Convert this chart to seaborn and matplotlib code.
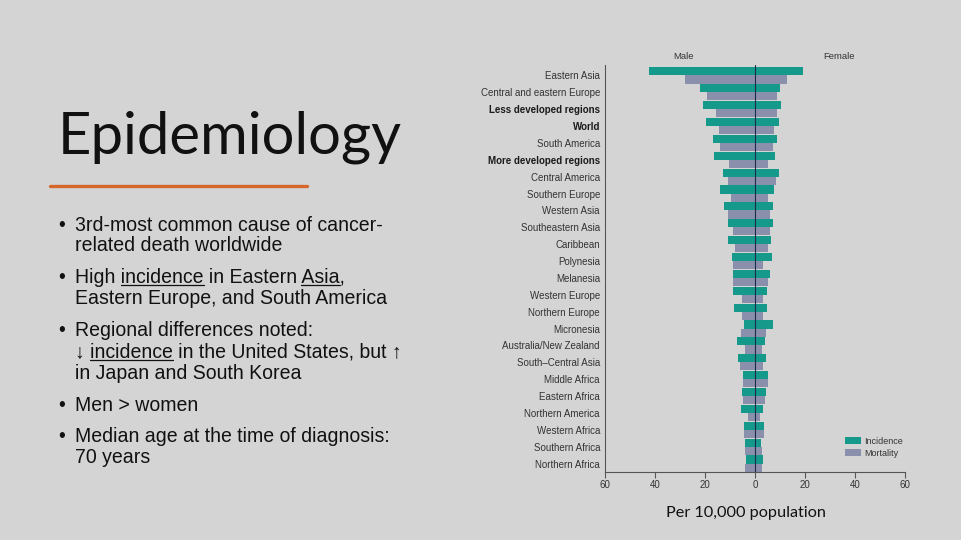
import numpy as np
import pandas as pd
import matplotlib
matplotlib.use("Agg")
import matplotlib.pyplot as plt
import seaborn as sns
from matplotlib.patches import Patch
from matplotlib.lines import Line2D
from matplotlib.font_manager import FontProperties

# ---------------- data ----------------
regions = [
    "Eastern Asia", "Central and eastern Europe", "Less developed regions", "World",
    "South America", "More developed regions", "Central America", "Southern Europe",
    "Western Asia", "Southeastern Asia", "Caribbean", "Polynesia", "Melanesia",
    "Western Europe", "Northern Europe", "Micronesia", "Australia/New Zealand",
    "South\u2013Central Asia", "Middle Africa", "Eastern Africa", "Northern America",
    "Western Africa", "Southern Africa", "Northern Africa",
]
bold_regions = ["Less developed regions", "World", "More developed regions"]
male_incidence = [42.3, 22.0, 21.0, 19.7, 17.0, 16.4, 12.7, 14.0, 12.4, 10.7, 11.0, 9.3,
                  8.7, 8.7, 8.3, 4.4, 7.3, 6.7, 4.9, 5.3, 5.6, 4.4, 4.0, 3.6]
male_mortality = [28.0, 19.3, 15.6, 14.3, 14.0, 10.3, 10.7, 9.7, 10.7, 8.7, 8.0, 8.7,
                  8.7, 5.3, 5.3, 5.7, 4.0, 6.0, 4.9, 4.9, 2.7, 4.4, 4.0, 4.0]
female_incidence = [19.0, 10.0, 10.4, 9.7, 8.9, 8.0, 9.7, 7.6, 7.1, 7.1, 6.4, 6.9,
                    6.0, 4.7, 4.7, 7.3, 4.0, 4.3, 5.1, 4.3, 3.3, 3.7, 2.4, 3.1]
female_mortality = [12.7, 8.7, 8.7, 7.6, 7.3, 5.3, 8.4, 5.1, 6.0, 6.0, 5.1, 3.1,
                    5.3, 3.3, 3.1, 4.4, 2.7, 3.3, 5.1, 4.0, 2.0, 3.7, 2.7, 2.7]
measures = ["Incidence", "Mortality"]
x_ticks = [-60, -40, -20, 0, 20, 40, 60]
x_tick_labels = ["60", "40", "20", "0", "20", "40", "60"]

title = "Epidemiology"
bullets = [
    ["3rd-most common cause of cancer-", "related death worldwide"],
    ["High incidence in Eastern Asia,", "Eastern Europe, and South America"],
    ["Regional differences noted:", "\u2193 incidence in the United States, but \u2191",
     "in Japan and South Korea"],
    ["Men > women"],
    ["Median age at the time of diagnosis:", "70 years"],
]
footer = "Per 10,000 population"

# ---------------- styling ----------------
W, H = 961, 540
BG = "#d4d4d4"
TEAL = "#14998b"
MORT = "#8a8fab"
sns.set_theme(style="white")
plt.rcParams["font.family"] = ["Liberation Sans", "DejaVu Sans"]

fig = plt.figure(figsize=(W / 100, H / 100), dpi=100, facecolor=BG)
renderer = fig.canvas.get_renderer()


def fx(x):
    return x / W


def fy(y):
    return 1 - y / H


def text_width(s, prop):
    t = fig.text(0, 0, s, fontproperties=prop)
    w = t.get_window_extent(renderer).width
    t.remove()
    return w


def fit_size(s, family, target, weight="normal"):
    prop = FontProperties(family=family, size=20, weight=weight)
    return 20 * target / text_width(s, prop)


# ---------------- chart ----------------
ax = fig.add_axes([fx(605), fy(472), 300 / W, (472 - 65) / H])
ax.set_facecolor("none")

male_df = pd.DataFrame({
    "region": regions * 2,
    "measure": ["Incidence"] * len(regions) + ["Mortality"] * len(regions),
    "value": [-v for v in male_incidence] + [-v for v in male_mortality],
})
female_df = pd.DataFrame({
    "region": regions * 2,
    "measure": ["Incidence"] * len(regions) + ["Mortality"] * len(regions),
    "value": female_incidence + female_mortality,
})
pal = {"Incidence": TEAL, "Mortality": MORT}
for df in (male_df, female_df):
    sns.barplot(data=df, x="value", y="region", hue="measure", order=regions,
                hue_order=measures, palette=pal, orient="h", width=0.96,
                saturation=1, errorbar=None, legend=False, ax=ax, linewidth=0)

ax.axvline(0, color="#1d2a4a", lw=0.8, zorder=5)
ax.set_xlim(-60, 60)
ax.set_ylim(len(regions) - 0.5, -0.62)
ax.set_xticks(x_ticks)
ax.set_xticklabels(x_tick_labels, fontsize=7, color="#333333")
ax.set_xlabel("")
ax.set_ylabel("")
ax.tick_params(axis="x", length=4, width=0.8, color="#555555", pad=2, bottom=True)
ax.tick_params(axis="y", length=0, pad=3.6)
for lbl in ax.get_yticklabels():
    lbl.set_fontsize(7)
    if lbl.get_text() in bold_regions:
        lbl.set_fontweight("bold")
        lbl.set_color("#1a1a1a")
    else:
        lbl.set_color("#333333")
for side in ("top", "right"):
    ax.spines[side].set_visible(False)
for side in ("left", "bottom"):
    ax.spines[side].set_color("#555555")
    ax.spines[side].set_linewidth(0.8)

handles = [Patch(facecolor=TEAL, edgecolor="none"), Patch(facecolor=MORT, edgecolor="none")]
ax.legend(handles, measures, loc="lower right", bbox_to_anchor=(1.02, 0.015),
          frameon=False, fontsize=6.5, handlelength=1.7, handleheight=0.75,
          handletextpad=0.4, labelspacing=0.35, labelcolor="#333333")

fig.text(fx(683), fy(56.5), "Male", fontsize=6.8, color="#333333", ha="center", va="center")
fig.text(fx(839), fy(56.5), "Female", fontsize=6.8, color="#333333", ha="center", va="center")

# footer
ffs = fit_size(footer, ["Lato", "DejaVu Sans"], 160)
fig.text(fx(746), fy(517), footer, fontsize=ffs, family=["Lato", "DejaVu Sans"],
         color="#111111", ha="center", va="baseline")

# ---------------- left text ----------------
tfs = fit_size(title, ["Lato", "DejaVu Sans"], 344)
fig.text(fx(58), fy(153), title, fontsize=tfs, family=["Lato", "DejaVu Sans"],
         color="#111111", ha="left", va="baseline")
fig.add_artist(Line2D([fx(50), fx(307)], [fy(186), fy(186)], color="#d5662c",
                      lw=2.4, solid_capstyle="round", transform=fig.transFigure))

bfam = ["Liberation Sans", "DejaVu Sans"]
bfs = fit_size(bullets[0][0], bfam, 307)
bprop = FontProperties(family=bfam, size=bfs)
line_centers = [[225, 245], [277, 298], [330, 352, 373], [405], [436, 457]]
underlines = {(1, 0): [("High incidence", "incidence"), ("High incidence in Eastern Asia", "Asia")],
              (2, 1): [("\u2193 incidence", "incidence")]}
for bi, lines in enumerate(bullets):
    for li, line in enumerate(lines):
        base = line_centers[bi][li] + 6
        if li == 0:
            fig.text(fx(58), fy(base), "\u2022", fontsize=bfs, family=bfam,
                     color="#111111", ha="left", va="baseline")
        fig.text(fx(75), fy(base), line, fontsize=bfs, family=bfam,
                 color="#111111", ha="left", va="baseline")
        for pre, word in underlines.get((bi, li), []):
            end = text_width(pre, bprop)
            start = end - text_width(word, bprop)
            fig.add_artist(Line2D([fx(75 + start), fx(75 + end)], [fy(base + 2.2)] * 2,
                                  color="#111111", lw=0.9, transform=fig.transFigure))

fig.savefig("out.png", dpi=100, facecolor=BG)
